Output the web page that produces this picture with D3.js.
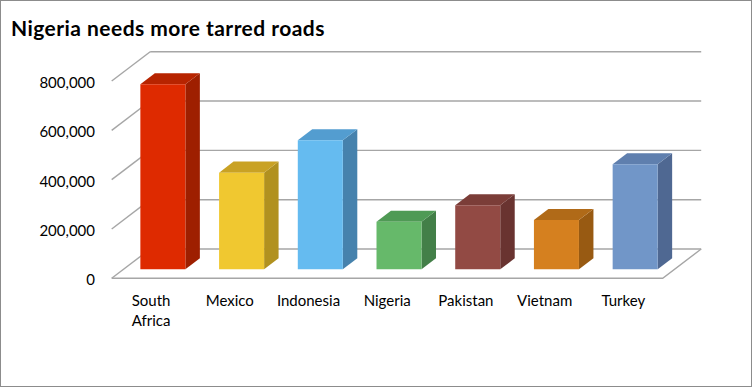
<!DOCTYPE html>
<html>
<head>
<meta charset="utf-8">
<script src="https://cdn.jsdelivr.net/npm/d3@7"></script>
<style>
  body { margin: 0; background: #fff; }
  text { font-family: Lato, "Open Sans", sans-serif; fill: #000; }
</style>
</head>
<body>
<div id="chart"></div>
<script>
'use strict'

var categories = ['South Africa', 'Mexico', 'Indonesia', 'Nigeria', 'Pakistan', 'Vietnam', 'Turkey'];
var roadKm = [750000, 392000, 523000, 193000, 260000, 200000, 426000];
var yTicks = [0, 200000, 400000, 600000, 800000];
var frontColors = ['#de2a00', '#f0c830', '#65bbf0', '#66b96a', '#924a44', '#d5801f', '#7196c8'];
var sideColors = ['#9e1f00', '#b1911f', '#4682ad', '#437f48', '#693330', '#985a12', '#4f6892'];
var topColors = ['#b72400', '#c9a224', '#539dd0', '#4f9a55', '#7b3d38', '#b06a18', '#5f7fae'];

var outerWidth = 753;
var outerHeight = 388;

// floor front-left corner, width of floor and the depth vector (oblique 3D)
var x0 = 111.7;
var y0 = 278.3;
var floorWidth = 551;
var depthX = 38.5;
var depthY = -29.3;
var barZ0 = 0.307;
var barZ1 = 0.683;

var svg = d3.select('#chart').append('svg')
  .attr('width', outerWidth)
  .attr('height', outerHeight);

//outer frame
svg.append('rect')
  .attr('x', 0.5).attr('y', 0.5)
  .attr('width', 751).attr('height', 386)
  .attr('fill', '#fff')
  .attr('stroke', '#8c8c8c');

svg.append('text')
  .attr('x', 11).attr('y', 36)
  .style('font-size', '21px')
  .style('font-weight', 'bold')
  .style('letter-spacing', '0.45px')
  .text('Nigeria needs more tarred roads');

var yScale = d3.scaleLinear()
  .domain([0, 800000])
  .range([0, 197.3]);

var xScale = d3.scaleBand()
  .domain(categories)
  .range([0, floorWidth])
  .paddingInner(0.428)
  .paddingOuter(0.214);

//project (x along floor front, value, depth 0..1) to screen
function pt(x, v, z){
  return [x0 + x + z * depthX, y0 - yScale(v) + z * depthY];
}

function poly(points){
  return 'M' + points.map(function(p){ return p.join(','); }).join('L') + 'Z';
}

var grid = svg.append('g')
  .attr('fill', 'none')
  .attr('stroke', '#a6a6a6')
  .attr('stroke-width', 1.4);

//back wall lines and side wall diagonals
yTicks.forEach(function(t){
  var a = pt(0, t, 1), b = pt(floorWidth, t, 1), c = pt(0, t, 0);
  grid.append('line').attr('x1', a[0]).attr('y1', a[1]).attr('x2', b[0]).attr('y2', b[1]);
  grid.append('line').attr('x1', c[0]).attr('y1', c[1]).attr('x2', a[0]).attr('y2', a[1]);
});

//floor front edge and right edge
var f0 = pt(0, 0, 0), f1 = pt(floorWidth, 0, 0), f2 = pt(floorWidth, 0, 1);
grid.append('path').attr('d', 'M' + f0 + 'L' + f1 + 'L' + f2);

//tick labels
svg.append('g').selectAll('text')
  .data(yTicks)
  .enter().append('text')
    .attr('x', 95)
    .attr('y', function(d){ return pt(0, d, 0)[1] + 7; })
    .attr('text-anchor', 'end')
    .style('font-size', '15px')
    .text(function(d){ return d3.format(',')(d); });

//bars
var bars = svg.append('g').selectAll('g')
  .data(categories)
  .enter().append('g');

bars.append('path')
  .attr('fill', function(d, i){ return sideColors[i]; })
  .attr('d', function(d, i){
    var xr = xScale(d) + xScale.bandwidth();
    return poly([pt(xr, 0, barZ0), pt(xr, 0, barZ1), pt(xr, roadKm[i], barZ1), pt(xr, roadKm[i], barZ0)]);
  });

bars.append('path')
  .attr('fill', function(d, i){ return topColors[i]; })
  .attr('d', function(d, i){
    var xl = xScale(d), xr = xl + xScale.bandwidth(), v = roadKm[i];
    return poly([pt(xl, v, barZ0), pt(xr, v, barZ0), pt(xr, v, barZ1), pt(xl, v, barZ1)]);
  });

bars.append('path')
  .attr('fill', function(d, i){ return frontColors[i]; })
  .attr('d', function(d, i){
    var xl = xScale(d), xr = xl + xScale.bandwidth(), v = roadKm[i];
    return poly([pt(xl, 0, barZ0), pt(xr, 0, barZ0), pt(xr, v, barZ0), pt(xl, v, barZ0)]);
  });

//category labels, centred under each band on the front edge
var labels = svg.append('g').selectAll('text')
  .data(categories)
  .enter().append('text')
    .attr('text-anchor', 'middle')
    .attr('transform', function(d){
      return 'translate(' + (x0 + xScale(d) + xScale.bandwidth() / 2) + ',306)';
    })
    .style('font-size', '15px');

labels.selectAll('tspan')
  .data(function(d){ return d.split(' '); })
  .enter().append('tspan')
    .attr('x', 0)
    .attr('dy', function(d, i){ return i ? 20 : 0; })
    .text(function(d){ return d; });
</script>
</body>
</html>
